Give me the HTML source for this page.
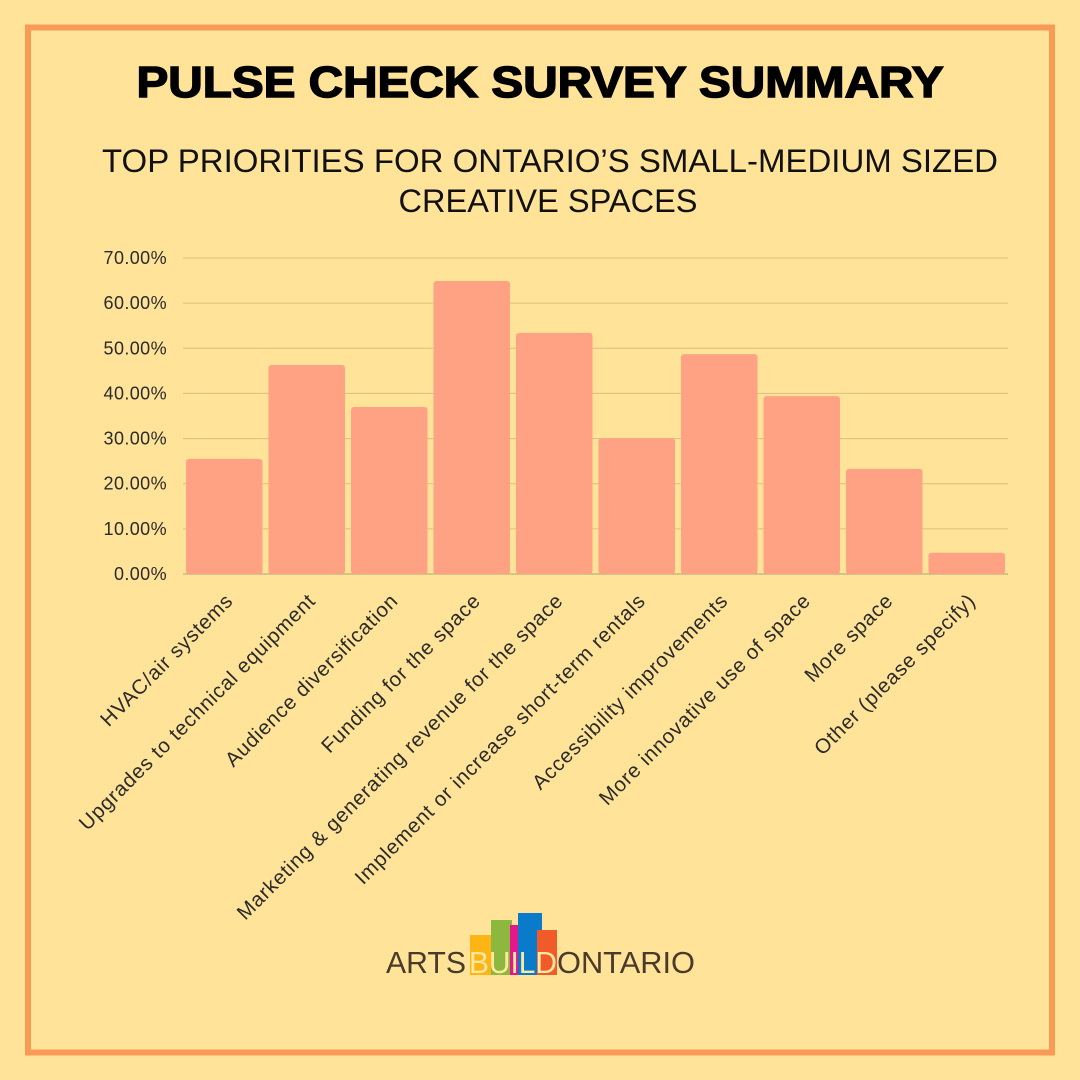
<!DOCTYPE html>
<html><head><meta charset="utf-8"><style>
html,body{margin:0;padding:0;background:#FFE398;}
svg{display:block;font-family:"Liberation Sans",sans-serif;}
</style></head><body>
<svg id="chart" width="1080" height="1080" viewBox="0 0 1080 1080">
<rect x="0" y="0" width="1080" height="1080" fill="#FFE398"/>
<rect x="28" y="27.5" width="1024" height="1025" fill="none" stroke="#F99A57" stroke-width="6"/>
<text x="540" y="97" text-anchor="middle" font-size="44" font-weight="900" fill="#000" textLength="807" lengthAdjust="spacingAndGlyphs" stroke="#000" stroke-width="1.5">PULSE CHECK SURVEY SUMMARY</text>
<text x="550" y="172" text-anchor="middle" font-size="32" fill="#111" textLength="896" lengthAdjust="spacingAndGlyphs">TOP PRIORITIES FOR ONTARIO’S SMALL-MEDIUM SIZED</text>
<text x="548" y="212" text-anchor="middle" font-size="32" fill="#111" textLength="299" lengthAdjust="spacingAndGlyphs">CREATIVE SPACES</text>
<g id="grid"></g>
<g id="yaxis"></g>
<g id="bars"></g>
<g id="xaxis"></g>
<g>
<rect x="470" y="935" width="22" height="40" fill="#FDB515"/>
<rect x="491" y="920" width="21" height="55" fill="#8DB83F"/>
<rect x="510" y="925" width="10" height="50" fill="#E4188B"/>
<rect x="518" y="913" width="24" height="62" fill="#0A7ACB"/>
<rect x="537" y="930" width="20" height="45" fill="#F15A29"/>
<text x="386" y="973" font-size="31" fill="#4a3a2a" textLength="80" lengthAdjust="spacingAndGlyphs">ARTS</text>
<text x="469" y="973" font-size="31" fill="#FFE9A0" textLength="88" lengthAdjust="spacingAndGlyphs">BUILD</text>
<text x="557" y="973" font-size="31" fill="#4a3a2a" textLength="138" lengthAdjust="spacingAndGlyphs">ONTARIO</text>
</g>
</svg>
<script>
const categories=["HVAC/air systems","Upgrades to technical equipment","Audience diversification","Funding for the space","Marketing & generating revenue for the space","Implement or increase short-term rentals","Accessibility improvements","More innovative use of space","More space","Other (please specify)"];
const values=[25.5,46.3,37.0,64.9,53.4,30.1,48.7,39.4,23.3,4.7];
const yTicks=[0,10,20,30,40,50,60,70];
const yTickLabels=["0.00%","10.00%","20.00%","30.00%","40.00%","50.00%","60.00%","70.00%"];
const NS="http://www.w3.org/2000/svg";
const x0=183,x1=1008,yBase=574,yTop=258,yMax=70;
const y=v=>yBase-(v/yMax)*(yBase-yTop);
const slot=(x1-x0)/categories.length;
const xc=i=>x0+slot*i+slot/2;
function mk(t,a,p){const e=document.createElementNS(NS,t);for(const k in a)e.setAttribute(k,a[k]);p.appendChild(e);return e;}
const grid=document.getElementById('grid'),ya=document.getElementById('yaxis'),bars=document.getElementById('bars'),xa=document.getElementById('xaxis');
yTicks.forEach((v,i)=>{
 const l=mk('line',{x1:x0,x2:x1,y1:y(v),y2:y(v),stroke:v===0?'#b0a070':'#d9c080','stroke-width':1},grid);
 
 
 const t=mk('text',{x:167,y:y(v)+6,'text-anchor':'end','font-size':18,'letter-spacing':0.4,fill:'#2a2a2a'},ya);
 t.textContent=yTickLabels[i];
 
 
});
categories.forEach((c,i)=>{
 const w=slot-6;
 const r=mk('rect',{x:xc(i)-w/2,y:y(values[i]),width:w,height:yBase-y(values[i]),rx:3,fill:'#FFA283'},bars);
 
 
 const t=mk('text',{x:0,y:0,'text-anchor':'end','font-size':20.5,'letter-spacing':0.8,fill:'#2a2a2a',transform:`translate(${xc(i)+10},${yBase+28}) rotate(-45)`},xa);
 t.textContent=c;
 
 
});
</script>
</body></html>
